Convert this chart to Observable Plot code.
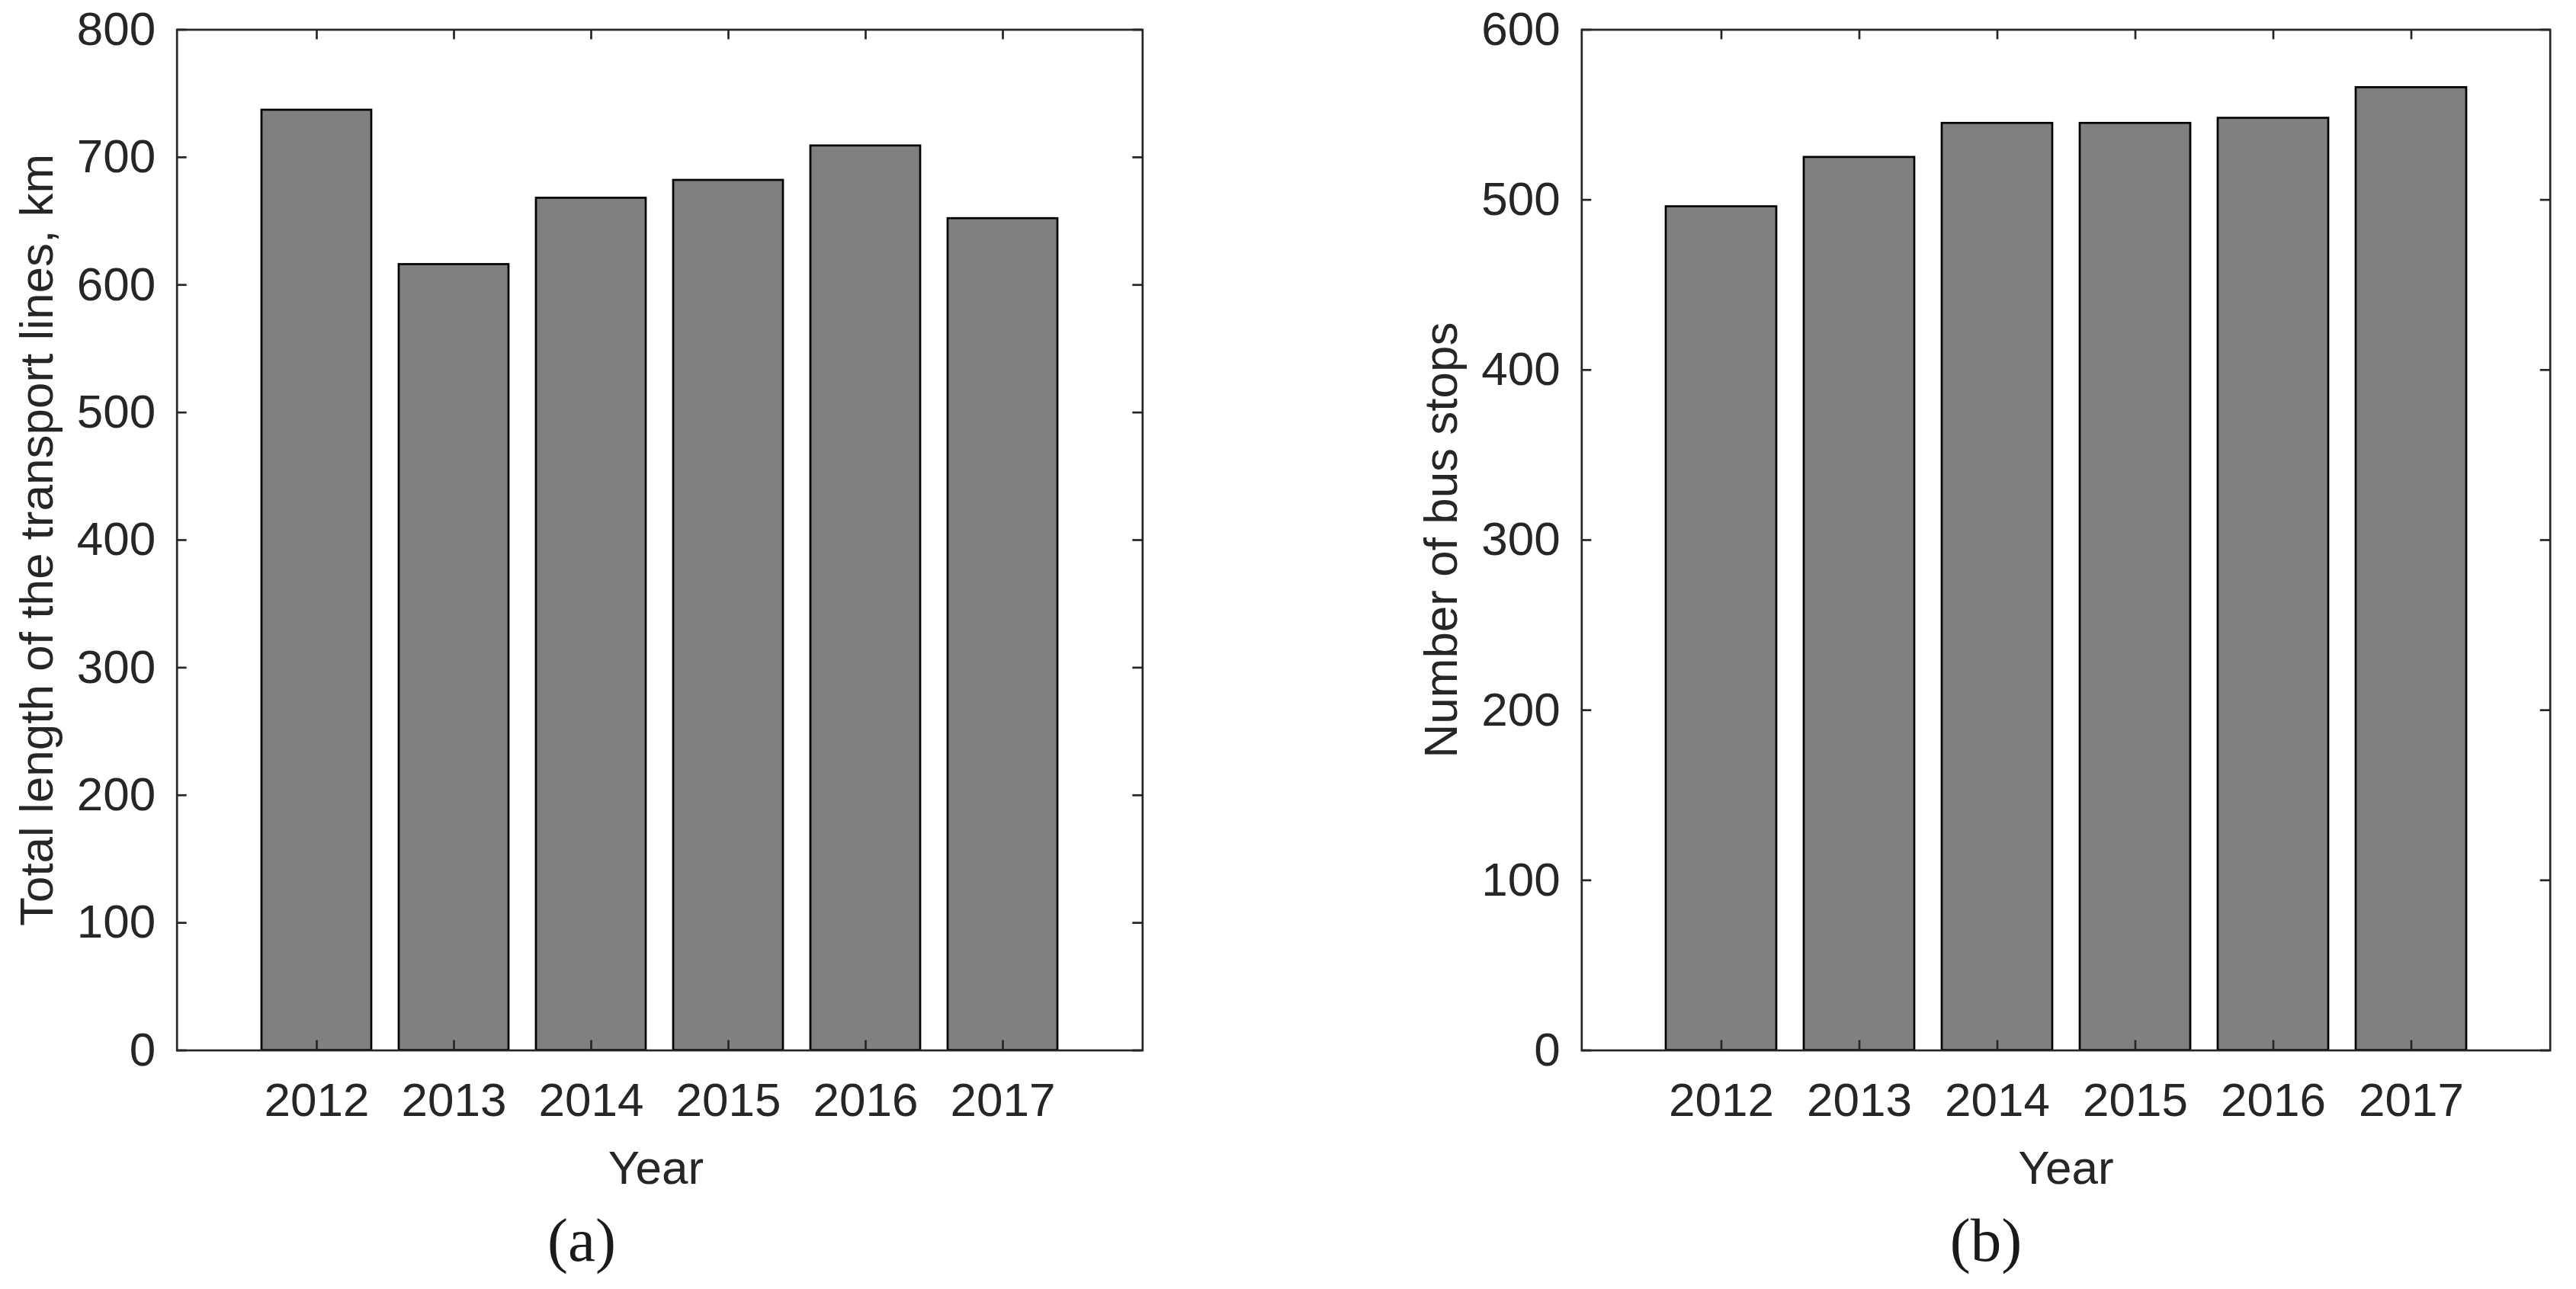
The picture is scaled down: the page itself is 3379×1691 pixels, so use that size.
<!DOCTYPE html>
<html><head><meta charset="utf-8">
<script src="https://cdn.jsdelivr.net/npm/d3@7"></script>
<script src="https://cdn.jsdelivr.net/npm/@observablehq/plot@0.6"></script>
<style>
html,body{margin:0;padding:0;background:#fff;}
#root{position:relative;width:3379px;height:1691px;overflow:hidden;background:#fff;}
.panel{position:absolute;top:0;}
.cap{position:absolute;top:1587px;width:400px;font-family:"Liberation Serif","Times New Roman",serif;font-size:81px;line-height:81px;color:#1a1a1a;text-align:center;}
</style></head><body><div id="root"></div>
<script>
// ---- data ----
const years = [2012, 2013, 2014, 2015, 2016, 2017];
const lengthKm = [737, 616, 668, 682, 709, 652];
const busStops = [496, 525, 545, 545, 548, 566];
const lengthTicks = [0, 100, 200, 300, 400, 500, 600, 700, 800];
const stopTicks = [0, 100, 200, 300, 400, 500, 600];
const labelA = "Total length of the transport lines, km";
const labelB = "Number of bus stops";
const xLabel = "Year";

const fontFamily = '"Liberation Sans", Arial, Helvetica, sans-serif';
const axisColor = "#262626";

function panel({values, ticks, yLabel, width, marginLeft, marginRight, labelX, xLabelDx}) {
  const H = 1580, mt = 38.5, mb = H - 1377.5;
  const plotW = width - marginLeft - marginRight, plotH = H - mt - mb;
  const data = years.map((year, i) => ({year, value: values[i]}));
  const tick = 13, sw = 2.7;
  return Plot.plot({
    width, height: H, marginLeft, marginRight, marginTop: mt, marginBottom: mb,
    style: {fontFamily, fontSize: "62px", color: axisColor, background: "transparent", overflow: "visible"},
    x: {type: "band", domain: years, paddingInner: 0.2, paddingOuter: 0.6},
    y: {domain: [ticks[0], ticks[ticks.length - 1]]},
    marks: [
      Plot.barY(data, {x: "year", y: "value", fill: "#808080", stroke: "#000", strokeWidth: sw}),
      Plot.tickX(years, {x: d => d, insetTop: plotH - tick, stroke: axisColor, strokeWidth: sw}),
      Plot.tickX(years, {x: d => d, insetBottom: plotH - tick, stroke: axisColor, strokeWidth: sw}),
      Plot.tickY(ticks, {y: d => d, insetRight: plotW - tick, stroke: axisColor, strokeWidth: sw}),
      Plot.tickY(ticks, {y: d => d, insetLeft: plotW - tick, stroke: axisColor, strokeWidth: sw}),
      Plot.frame({stroke: axisColor, strokeWidth: sw}),
      Plot.axisX({tickSize: 0, tickPadding: 41.5, tickFormat: d => String(d), fontSize: 62, label: null}),
      Plot.axisY({ticks, tickSize: 0, tickPadding: 28, fontSize: 62, label: null}),
      Plot.text([yLabel], {frameAnchor: "left", text: d => d, rotate: -90, textAnchor: "middle", lineAnchor: "bottom", dx: labelX - marginLeft, fontSize: 62}),
      Plot.text([xLabel], {frameAnchor: "bottom", text: d => d, lineAnchor: "bottom", dy: 174.5, dx: xLabelDx, fontSize: 62})
    ]
  });
}

const root = document.getElementById("root");
const a = panel({values: lengthKm, ticks: lengthTicks, yLabel: labelA, width: 1600, marginLeft: 231.7, marginRight: 1600 - 1498.3, labelX: 68.3, xLabelDx: -5});
a.classList.add("panel"); a.style.left = "0px";
const b = panel({values: busStops, ticks: stopTicks, yLabel: labelB, width: 1679, marginLeft: 2074.3 - 1700, marginRight: 3379 - 3344.7, labelX: 1910 - 1700, xLabelDx: 0});
b.classList.add("panel"); b.style.left = "1700px";
root.appendChild(a); root.appendChild(b);

const capA = document.createElement("div"); capA.className = "cap"; capA.textContent = "(a)"; capA.style.left = (763 - 200) + "px";
const capB = document.createElement("div"); capB.className = "cap"; capB.textContent = "(b)"; capB.style.left = (2605 - 200) + "px";
root.appendChild(capA); root.appendChild(capB);
</script>
</body></html>
